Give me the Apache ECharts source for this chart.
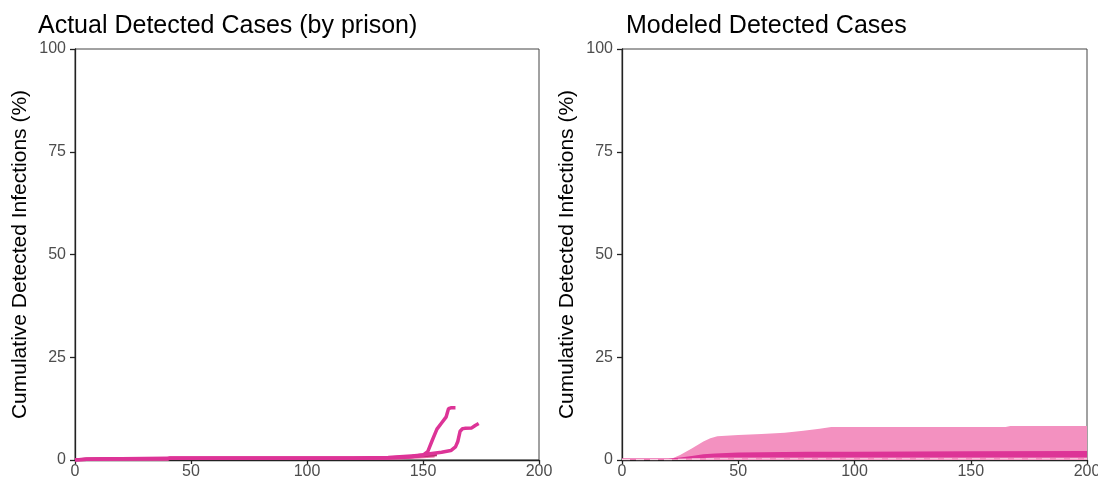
<!DOCTYPE html>
<html><head><meta charset="utf-8">
<script src="https://cdn.jsdelivr.net/npm/echarts@6/dist/echarts.min.js"></script>
<style>html,body{margin:0;padding:0;background:#fff}#c{width:1098px;height:482px}</style>
</head><body><div id="c"></div>
<script>
// ---- data ----
const titles = ['Actual Detected Cases (by prison)', 'Modeled Detected Cases'];
const yAxisName = 'Cumulative Detected Infections (%)';
const xTicks = [0, 50, 100, 150, 200];
const yTicks = [0, 25, 50, 75, 100];

// Actual (by prison)
const prisonA_days = [0, 5, 20, 40, 41, 60, 80, 100, 120, 135, 140, 145, 150, 152, 154, 156, 158, 160, 161, 162, 164];
const prisonA_vals = [0, 0.2, 0.3, 0.3, 0.5, 0.5, 0.5, 0.5, 0.5, 0.6, 0.8, 1.0, 1.2, 2.0, 4.8, 7.5, 9.0, 10.5, 12.5, 12.7, 12.7];
const prisonB_days = [0, 5, 20, 40, 60, 80, 100, 120, 135, 145, 153, 158, 162, 164, 165, 166, 167, 168, 171, 172.5, 174];
const prisonB_vals = [0, 0.2, 0.3, 0.4, 0.4, 0.4, 0.4, 0.4, 0.5, 0.8, 1.5, 1.9, 2.3, 3.2, 4.5, 7.0, 7.6, 7.7, 7.8, 8.4, 8.9];
const prisonC_days = [0, 5, 20, 40, 41, 60, 80, 100, 120, 140, 150, 155];
const prisonC_vals = [0, 0.1, 0.2, 0.2, 0.4, 0.4, 0.4, 0.4, 0.4, 0.5, 0.8, 1.0];
const prisonD_days = [0, 5, 20, 40, 60, 80, 100, 120, 140, 150, 156];
const prisonD_vals = [0, 0.3, 0.4, 0.4, 0.5, 0.5, 0.5, 0.5, 0.6, 1.0, 1.2];

// Modeled
const model_days = [0, 10, 20, 22, 25, 30, 35, 38, 41, 50, 60, 70, 78, 85, 90, 100, 130, 165, 167, 200];
const model_upper = [0.4, 0.4, 0.4, 0.5, 1.2, 2.8, 4.5, 5.3, 5.8, 6.1, 6.3, 6.6, 7.1, 7.6, 8.0, 8.0, 8.0, 8.0, 8.3, 8.3];
const inner_days = [0, 20, 25, 30, 35, 40, 50, 60, 80, 100, 150, 200];
const inner_upper = [0.3, 0.3, 0.6, 1.0, 1.4, 1.6, 1.8, 1.9, 2.0, 2.0, 2.1, 2.2];
const inner_lower = [0.2, 0.2, 0.3, 0.4, 0.5, 0.6, 0.6, 0.6, 0.6, 0.6, 0.6, 0.6];
const model_median = [0.1, 0.1, 0.15, 0.2, 0.25, 0.3, 0.3, 0.3, 0.3, 0.3, 0.3, 0.3];

// ---- chart ----
const zip = (a, b) => a.map((d, i) => [d, b[i]]);
const FONT = '"Liberation Sans", Arial, sans-serif';
const chart = echarts.init(document.getElementById('c'), null, {renderer: 'canvas'});

function xAxis(gi) {
  return {
    gridIndex: gi, type: 'value', min: 0, max: 200, interval: 50,
    axisLine: {show: true, onZero: false, lineStyle: {color: '#222', width: 1.3}},
    axisTick: {show: true, length: 4, lineStyle: {color: '#222', width: 1.3}},
    axisLabel: {color: '#4d4d4d', fontSize: 16, fontFamily: FONT, margin: 4, showMaxLabel: true, hideOverlap: false},
    splitLine: {show: false}
  };
}
function yAxis(gi) {
  return {
    gridIndex: gi, type: 'value', min: 0, max: 100, interval: 25,
    name: yAxisName, nameLocation: 'middle', nameGap: 44, nameRotate: 90,
    nameTextStyle: {color: '#000', fontSize: 21, fontFamily: FONT},
    axisLine: {show: true, onZero: false, lineStyle: {color: '#222', width: 1.3}},
    axisTick: {show: true, length: 5, lineStyle: {color: '#222', width: 1.3}},
    axisLabel: {color: '#4d4d4d', fontSize: 16, fontFamily: FONT, margin: 9},
    splitLine: {show: false}
  };
}
const lineS = (name, days, vals, color, width) => ({
  name, type: 'line', xAxisIndex: 0, yAxisIndex: 0, data: zip(days, vals),
  showSymbol: false, lineStyle: {color, width}, itemStyle: {color}, silent: true
});
const areaS = (name, days, vals, color, z) => ({
  name, type: 'line', xAxisIndex: 1, yAxisIndex: 1, data: zip(days, vals), z,
  showSymbol: false, lineStyle: {width: 0}, areaStyle: {color, opacity: 1, origin: 'start'}, silent: true
});

chart.setOption({
  animation: false,
  backgroundColor: '#fff',
  title: [
    {text: titles[0], left: 33, top: 9, textStyle: {fontSize: 25, fontWeight: 'normal', color: '#000', fontFamily: FONT}},
    {text: titles[1], left: 621, top: 9, textStyle: {fontSize: 25, fontWeight: 'normal', color: '#000', fontFamily: FONT}}
  ],
  grid: [
    {left: 75, right: 559, top: 49, bottom: 22, show: true, borderColor: '#444', borderWidth: 1, backgroundColor: 'transparent', containLabel: false, outerBoundsMode: 'none'},
    {left: 622, right: 11, top: 49, bottom: 22, show: true, borderColor: '#444', borderWidth: 1, backgroundColor: 'transparent', containLabel: false, outerBoundsMode: 'none'}
  ],
  xAxis: [xAxis(0), xAxis(1)],
  yAxis: [yAxis(0), yAxis(1)],
  series: [
    lineS('C', prisonC_days, prisonC_vals, '#f06aa8', 3),
    lineS('D', prisonD_days, prisonD_vals, '#b8306f', 2.5),
    lineS('A', prisonA_days, prisonA_vals, '#dd3497', 3.5),
    lineS('B', prisonB_days, prisonB_vals, '#dd3497', 3.5),
    areaS('upper', model_days, model_upper, '#f391c0', 1),
    areaS('inner', inner_days, inner_upper, '#dd3497', 2),
    areaS('innerLow', inner_days, inner_lower, '#f391c0', 3),
    {name: 'median', type: 'line', xAxisIndex: 1, yAxisIndex: 1, data: zip(inner_days, model_median), z: 4,
     showSymbol: false, lineStyle: {color: '#f8d0e2', width: 1.2, type: [8, 6]}, silent: true}
  ]
});
</script></body></html>
